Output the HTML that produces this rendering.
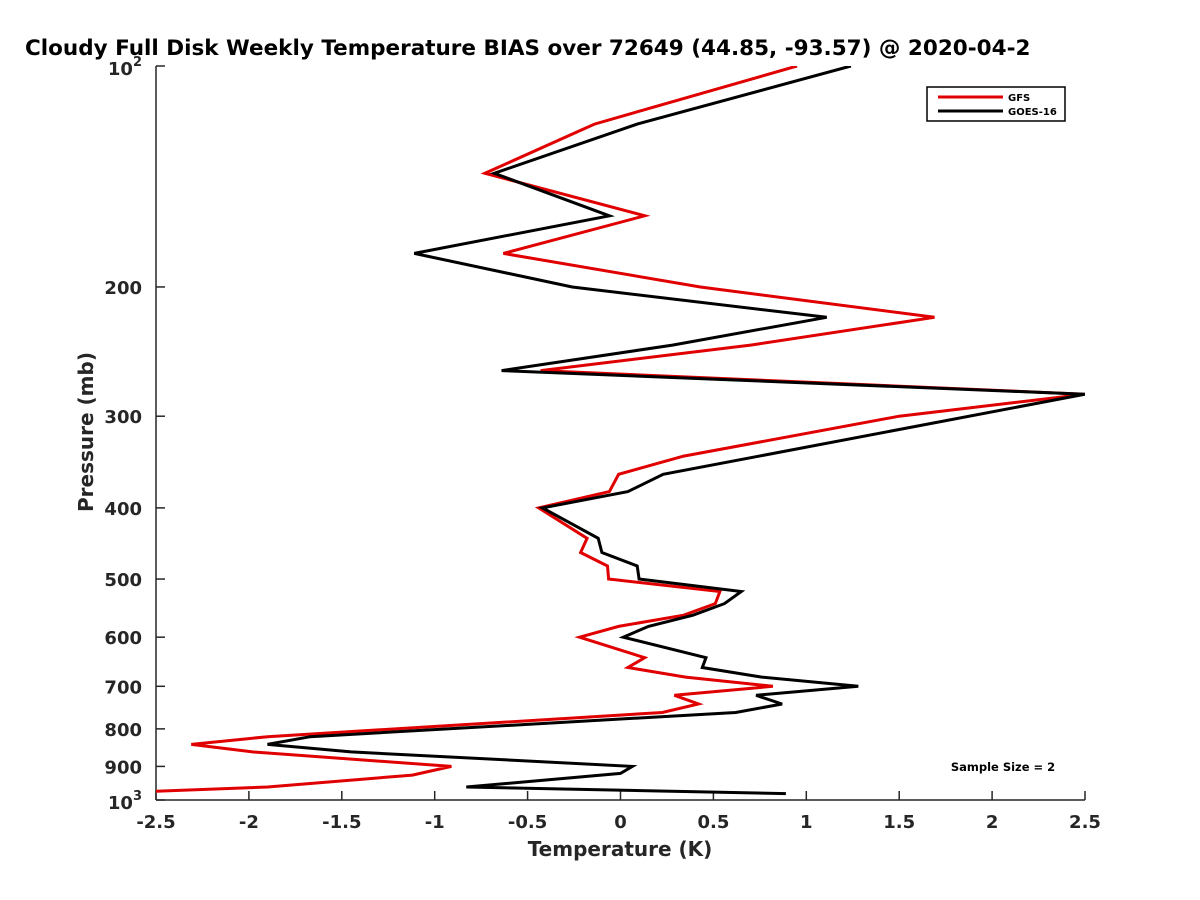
<!DOCTYPE html>
<html><head><meta charset="utf-8"><style>
html,body{margin:0;padding:0;background:#fff;}
svg{display:block;font-family:"DejaVu Sans","Liberation Sans",sans-serif;font-weight:bold;}
</style></head><body>
<svg id="chart" width="1200" height="900" viewBox="0 0 1200 900">
<rect width="1200" height="900" fill="#fff"/>
<text x="25" y="55" font-size="21.5" fill="#000">Cloudy Full Disk Weekly Temperature BIAS over 72649 (44.85, -93.57) @ 2020-04-2</text>
<defs><clipPath id="plotclip"><rect x="156" y="66" width="929" height="734"/></clipPath></defs>
<g id="axes"></g>
<g id="series" clip-path="url(#plotclip)"></g>
<g>
<rect x="927" y="87" width="138" height="34" fill="#fff" stroke="#000" stroke-width="1.5"/>
<line x1="938" y1="97" x2="1003" y2="97" stroke="#e00000" stroke-width="3"/>
<text x="1008" y="101" font-size="10">GFS</text>
<line x1="938" y1="111" x2="1003" y2="111" stroke="#000" stroke-width="3"/>
<text x="1008" y="115" font-size="10">GOES-16</text>
</g>
<text x="1003" y="771" font-size="11.5" text-anchor="middle">Sample Size = 2</text>
<text x="620" y="856" font-size="20" text-anchor="middle" fill="#262626">Temperature (K)</text>
<text transform="translate(93,432) rotate(-90)" font-size="20" text-anchor="middle" fill="#262626">Pressure (mb)</text>
</svg>
<script>
const gfsPressure = [100,120,140,160,180,200,220,240,260,280,300,340,360,380,400,440,460,480,500,520,540,560,580,600,640,660,680,700,720,740,760,820,840,860,900,925,960,975];
const gfsTemp = [0.95,-0.14,-0.73,0.13,-0.63,0.43,1.69,0.70,-0.43,2.5,1.5,0.34,-0.01,-0.06,-0.44,-0.18,-0.215,-0.07,-0.064,0.535,0.51,0.34,-0.01,-0.22,0.13,0.04,0.35,0.82,0.29,0.42,0.225,-1.90,-2.31,-1.98,-0.91,-1.12,-1.90,-2.6];
const goesPressure = [100,120,140,160,180,200,220,240,260,280,360,380,400,440,460,480,500,520,540,560,580,600,640,660,680,700,720,740,760,820,840,860,900,920,960,980];
const goesTemp = [1.24,0.09,-0.68,-0.06,-1.11,-0.26,1.11,0.28,-0.64,2.5,0.23,0.04,-0.42,-0.12,-0.10,0.09,0.10,0.65,0.56,0.39,0.15,0.015,0.46,0.44,0.76,1.28,0.73,0.87,0.62,-1.67,-1.90,-1.45,0.064,0.0,-0.83,0.89];
const xTicks = [-2.5,-2,-1.5,-1,-0.5,0,0.5,1,1.5,2,2.5];
const yTicks = [200,300,400,500,600,700,800,900];

const NS = "http://www.w3.org/2000/svg";
const X0=156, X1=1085, Y0=66, Y1=800;
function xScale(t){return X0 + (t+2.5)/5*(X1-X0);}
function yScale(p){return Y0 + (Math.log10(p)-2)*(Y1-Y0);}
function mk(tag, attrs, parent){const e=document.createElementNS(NS,tag);for(const k in attrs)e.setAttribute(k,attrs[k]);parent.appendChild(e);return e;}

const axes=document.getElementById('axes');
const xAxis=mk('line',{x1:X0,y1:Y1,x2:X1,y2:Y1,stroke:'#262626','stroke-width':1.5},axes);


const yAxis=mk('line',{x1:X0,y1:Y0,x2:X0,y2:Y1,stroke:'#262626','stroke-width':1.5},axes);


xTicks.forEach(t=>{
  const x=xScale(t);
  const tk=mk('line',{x1:x,y1:Y1,x2:x,y2:Y1-9,stroke:'#262626','stroke-width':1.5},axes);
  
  
  const lb=mk('text',{x:x,y:Y1+28,'font-size':18,'text-anchor':'middle',fill:'#262626'},axes);
  lb.textContent=String(t);
  
  
});
[100,1000].concat(yTicks).forEach(p=>{
  const y=yScale(p);
  const tk=mk('line',{x1:X0,y1:y,x2:X0+9,y2:y,stroke:'#262626','stroke-width':1.5},axes);
  
  
});
yTicks.forEach(p=>{
  const lb=mk('text',{x:X0-14,y:yScale(p)+7,'font-size':18,'text-anchor':'end',fill:'#262626'},axes);
  lb.textContent=String(p);
  
  
});
[[100,'2'],[1000,'3']].forEach(([p,e])=>{
  const lb=mk('text',{x:X0-14,y:yScale(p)+9,'font-size':18,'text-anchor':'end',fill:'#262626'},axes);
  
  
  lb.innerHTML='10<tspan dy="-9" font-size="13">'+e+'</tspan>';
});

const series=document.getElementById('series');
function drawLine(ps,ts,color,name){
  const pts=ps.map((p,i)=>xScale(ts[i]).toFixed(1)+','+yScale(p).toFixed(1)).join(' ');
  const pl=mk('polyline',{points:pts,fill:'none',stroke:color,'stroke-width':3,'stroke-linejoin':'miter'},series);
  
  
}
drawLine(gfsPressure,gfsTemp,'#e00000','gfs-line');
drawLine(goesPressure,goesTemp,'#000','goes16-line');
</script>
</body></html>
